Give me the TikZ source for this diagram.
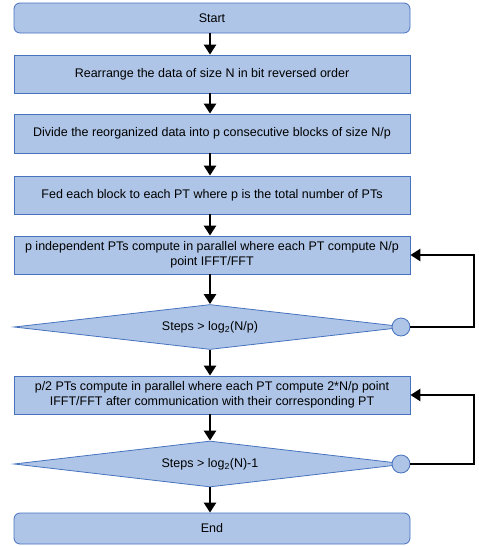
\documentclass[tikz,border=0pt]{standalone}
\usepackage{fontspec}
\setmainfont{Liberation Sans}
\usepackage{tikz}
\usetikzlibrary{shapes.geometric,arrows.meta}
\definecolor{boxblue}{RGB}{174,197,231}
\definecolor{edgeblue}{RGB}{70,114,190}

\begin{document}
\begin{tikzpicture}[x=1pt,y=-1pt,
    font=\fontsize{12.5}{14.5}\selectfont,
    stepbox/.style={draw=edgeblue, fill=boxblue, line width=0.8pt, minimum width=396pt, align=center, inner sep=1pt},
    endbox/.style={stepbox, rounded corners=6pt},
    testbox/.style={draw=edgeblue, fill=boxblue, line width=0.8pt, diamond, aspect=8.7, minimum width=392pt, inner sep=0pt},
    joint/.style={draw=edgeblue, fill=boxblue, line width=0.8pt, circle, minimum size=18pt, inner sep=0pt},
    flow/.style={-{Triangle[width=12pt,length=10pt]}, line width=2.6pt, black}]
    \useasboundingbox (0,0) rectangle (479,546);

    % Draw the boxes
    \node[endbox, minimum height=30pt] (start) at (212,18) {Start};
    \node[stepbox, minimum height=38pt] (rearr) at (212,74) {Rearrange the data of size N in bit reversed order};
    \node[stepbox, minimum height=39pt] (divide) at (212,133.5) {Divide the reorganized data into p consecutive blocks of size N/p};
    \node[stepbox, minimum height=38pt] (feed) at (212,195) {Fed each block to each PT where p is the total number of PTs};
    \node[stepbox, minimum height=38pt] (local) at (212,255) {p independent PTs compute in parallel where each PT compute N/p\\point IFFT/FFT};
    \node[testbox, minimum height=45pt] (testa) at (210,327) {Steps > log\textsubscript{2}(N/p)};
    \node[joint] (loopa) at (401,327) {};
    \node[stepbox, minimum height=38pt] (merge) at (212,395) {p/2 PTs compute in parallel where each PT compute 2*N/p point\\IFFT/FFT after communication with their corresponding PT};
    \node[testbox, minimum height=46pt] (testb) at (210,464) {Steps > log\textsubscript{2}(N)-1};
    \node[joint] (loopb) at (401,464) {};
    \node[endbox, minimum height=31pt] (finish) at (212,528.5) {End};

    % Draw the arrows
    \foreach \a/\b in {start/rearr, rearr/divide, divide/feed, feed/local, local/testa, testa/merge, merge/testb, testb/finish}
        \draw[flow] (\a.south -| 210,0) -- (\b.north -| 210,0);

    % Draw the loops back
    \draw[flow] (loopa.east) -- (474,327) |- (local.east);
    \draw[flow] (loopb.east) -- (474,464) |- (merge.east);
\end{tikzpicture}
\end{document}
